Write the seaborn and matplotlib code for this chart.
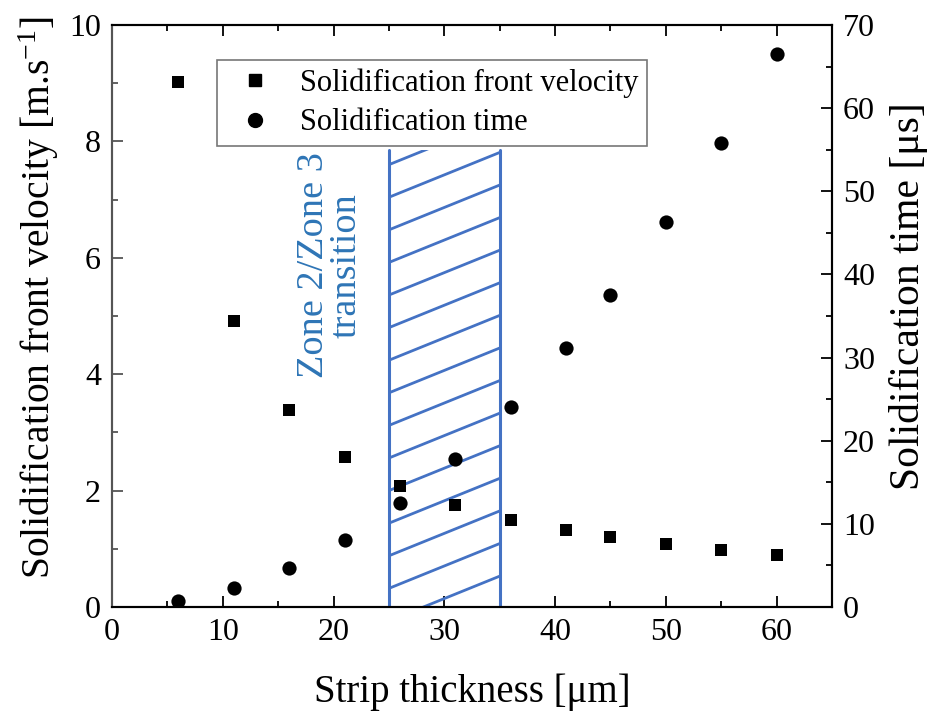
import numpy as np
import pandas as pd
import matplotlib
matplotlib.use("Agg")
import matplotlib.pyplot as plt
from matplotlib.patches import Rectangle
from matplotlib.lines import Line2D
import seaborn as sns

# ---- data ----
thickness = [6, 11, 16, 21, 26, 31, 36, 41, 45, 50, 55, 60]
velocity = [9.02, 4.92, 3.38, 2.58, 2.08, 1.75, 1.50, 1.32, 1.20, 1.08, 0.98, 0.90]
sol_time = [0.7, 2.3, 4.7, 8.1, 12.5, 17.8, 24.0, 31.1, 37.5, 46.3, 55.8, 66.5]

zone_bounds = [25, 35]
zone_top = 7.85
hatch_spacing = 0.56
hatch_rise = 0.77
hatch_offset = 0.32

x_ticks = [0, 10, 20, 30, 40, 50, 60]
y_left_ticks = [0, 2, 4, 6, 8, 10]
y_right_ticks = [0, 10, 20, 30, 40, 50, 60, 70]

df = pd.DataFrame({"thickness": thickness, "velocity": velocity, "time": sol_time})

sns.set_theme(style="white")
plt.rcParams["font.family"] = ["Liberation Serif", "DejaVu Serif"]
plt.rcParams["mathtext.fontset"] = "custom"
plt.rcParams["mathtext.rm"] = "Liberation Serif"
plt.rcParams["mathtext.it"] = "Liberation Serif:italic"
for k in ["text.color", "axes.labelcolor", "xtick.color", "ytick.color"]:
    plt.rcParams[k] = "black"

fig = plt.figure(figsize=(9.3, 7.18), dpi=100)
ax = fig.add_axes([112/930, 1-607/718, 720/930, 582/718])
ax2 = ax.twinx()

blue_line = "#4472C4"
blue_text = "#2E75B6"

# hatched transition zone
clip_rect = Rectangle((zone_bounds[0], 0), zone_bounds[1]-zone_bounds[0], zone_top,
                      facecolor="none", edgecolor="none", transform=ax.transData)
ax.add_patch(clip_rect)
starts = np.arange(hatch_offset - 2*hatch_spacing, zone_top + hatch_spacing, hatch_spacing)
for y0 in starts:
    ln, = ax.plot(zone_bounds, [y0, y0 + hatch_rise], color=blue_line, lw=2.0,
                  solid_capstyle="butt", zorder=1)
    ln.set_clip_path(clip_rect)
for xb in zone_bounds:
    ax.plot([xb, xb], [0, zone_top], color=blue_line, lw=2.2, zorder=1)

ax.text(19.7, 5.87, "Zone 2/Zone 3\ntransition", rotation=90,
        ha="center", va="center", color=blue_text, fontsize=27.5,
        linespacing=0.95, multialignment="center")

sns.scatterplot(data=df, x="thickness", y="velocity", marker="s", s=85, color="black",
                edgecolor="black", linewidth=0, ax=ax, zorder=3, legend=False)
sns.scatterplot(data=df, x="thickness", y="time", marker="o", s=105, color="black",
                edgecolor="black", linewidth=0, ax=ax2, zorder=3, legend=False)

ax.set_xlim(0, 65)
ax.set_ylim(0, 10)
ax2.set_ylim(0, 70)
ax.set_xticks(x_ticks)
ax.set_yticks(y_left_ticks)
ax2.set_yticks(y_right_ticks)
ax.set_xticks(np.arange(5, 65, 10), minor=True)
ax.set_yticks(np.arange(1, 10, 2), minor=True)
ax2.set_yticks(np.arange(5, 70, 10), minor=True)

ax.set_xlabel("Strip thickness [μm]", fontsize=28, labelpad=19)
ax.set_ylabel("Solidification front velocity [m.s$^{-1}$]", fontsize=28.5, labelpad=6)
ax2.set_ylabel("Solidification time [μs]", fontsize=30, labelpad=10)
ax.yaxis.label.set_y(0.532)
ax2.yaxis.label.set_y(0.535)

ax.tick_params(axis="x", which="both", direction="in", top=True, bottom=True,
               labelsize=23, colors="black", pad=8)
ax.tick_params(axis="x", which="major", length=8, width=1.3)
ax.tick_params(axis="x", which="minor", length=4.5, width=1.3)
ax.tick_params(axis="y", which="both", direction="in", left=True, right=False,
               labelsize=23, color="#555555", labelcolor="black", pad=8)
ax.tick_params(axis="y", which="major", length=8, width=1.3)
ax.tick_params(axis="y", which="minor", length=4.5, width=1.3)
ax2.tick_params(axis="y", which="both", direction="in", right=True, left=False,
                labelsize=23, colors="black", pad=8)
ax2.tick_params(axis="y", which="major", length=8, width=1.3)
ax2.tick_params(axis="y", which="minor", length=4.5, width=1.3)

for a in (ax, ax2):
    for side in ["top", "bottom", "right", "left"]:
        a.spines[side].set_visible(True)
        a.spines[side].set_color("black")
        a.spines[side].set_linewidth(1.5)
ax.spines["left"].set_color("#555555")
ax2.spines["left"].set_color("#555555")

handles = [
    Line2D([], [], marker="s", color="black", linestyle="none", markersize=9),
    Line2D([], [], marker="o", color="black", linestyle="none", markersize=10),
]
leg = ax.legend(handles, ["Solidification front velocity", "Solidification time"],
                loc="upper left", bbox_to_anchor=(105/720, 1-35/582),
                fontsize=22, frameon=True, fancybox=False, framealpha=1,
                edgecolor="#777777", borderpad=0.27, labelspacing=0.35,
                handletextpad=0.5, borderaxespad=0, handlelength=1.94)
leg.get_frame().set_linewidth(1.2)
leg.set_zorder(5)

fig.savefig("out.png", dpi=100)
